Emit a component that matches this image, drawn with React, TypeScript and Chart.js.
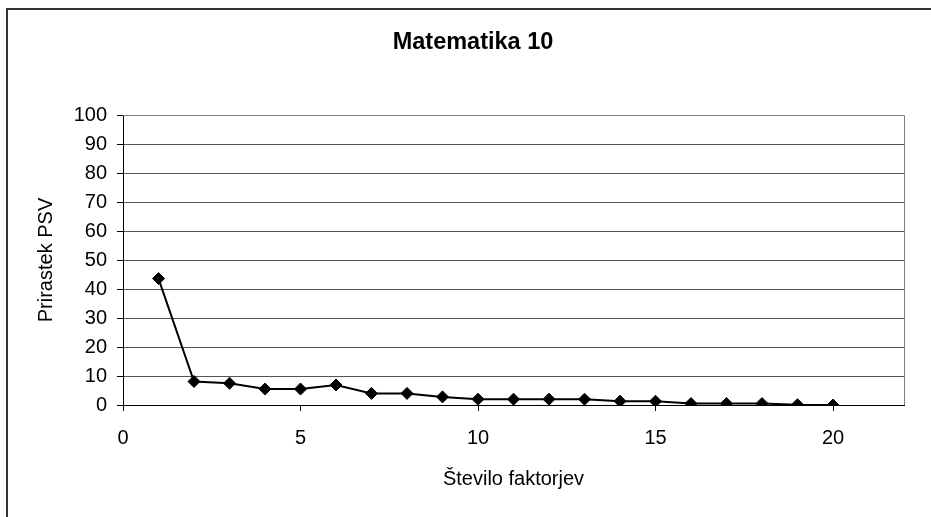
import React, { useEffect, useRef } from "react";
import { Chart, registerables } from "chart.js";

Chart.register(...registerables);

const TITLE = "Matematika 10";
const X_TITLE = "Število faktorjev";
const Y_TITLE = "Prirastek PSV";
const factors = [1, 2, 3, 4, 5, 6, 7, 8, 9, 10, 11, 12, 13, 14, 15, 16, 17, 18, 19, 20];
const increments = [43.6, 8.1, 7.5, 5.5, 5.5, 6.9, 4.0, 4.0, 2.8, 2.0, 2.0, 2.0, 2.0, 1.3, 1.3, 0.5, 0.5, 0.5, 0.1, 0.0];
const X_MIN = 0;
const X_MAX = 22;
const X_STEP = 5;
const X_LAST_TICK = 20;
const Y_MIN = 0;
const Y_MAX = 100;
const Y_STEP = 10;

const FONT = "'Liberation Sans', Arial, sans-serif";

const framePlugin = {
  id: "frame",
  beforeDraw(chart: any) {
    const ctx = chart.ctx;
    ctx.save();
    ctx.fillStyle = "#ffffff";
    ctx.fillRect(0, 0, chart.width, chart.height);
    ctx.strokeStyle = "#333333";
    ctx.lineWidth = 2;
    ctx.beginPath();
    ctx.moveTo(7, chart.height);
    ctx.lineTo(7, 9);
    ctx.lineTo(chart.width, 9);
    ctx.stroke();
    ctx.fillStyle = "#000000";
    ctx.font = "bold 23.5px " + FONT;
    ctx.textAlign = "center";
    ctx.textBaseline = "alphabetic";
    ctx.fillText(TITLE, 473, 49);
    ctx.restore();
  },
  beforeDatasetsDraw(chart: any) {
    const { ctx, chartArea } = chart;
    ctx.save();
    ctx.strokeStyle = "#808080";
    ctx.lineWidth = 1;
    ctx.beginPath();
    ctx.moveTo(chartArea.left, chartArea.top + 0.5);
    ctx.lineTo(chartArea.right + 0.5, chartArea.top + 0.5);
    ctx.lineTo(chartArea.right + 0.5, chartArea.bottom);
    ctx.stroke();
    ctx.restore();
  },
};

export default function App() {
  const canvasRef = useRef<HTMLCanvasElement | null>(null);

  useEffect(() => {
    const canvas = canvasRef.current;
    if (!canvas) return;
    const points = factors.map((x, i) => ({ x, y: increments[i] }));
    const chart = new Chart(canvas, {
      type: "scatter",
      data: {
        datasets: [
          {
            data: points,
            showLine: true,
            borderColor: "#000000",
            borderWidth: 2,
            pointStyle: "rectRot",
            pointRadius: 6,
            pointBackgroundColor: "#000000",
            pointBorderColor: "#000000",
            pointBorderWidth: 1,
          },
        ],
      },
      options: {
        responsive: false,
        animation: false,
        layout: { padding: { left: 0, right: 27, top: 115, bottom: 0 } },
        plugins: {
          legend: { display: false },
          tooltip: { enabled: false },
          title: { display: false },
        },
        scales: {
          x: {
            type: "linear",
            min: X_MIN,
            max: X_MAX,
            afterFit(scale: any) {
              scale.height = 112;
            },
            afterBuildTicks(scale: any) {
              const t = [];
              for (let v = X_MIN; v <= X_LAST_TICK; v += X_STEP) t.push({ value: v });
              scale.ticks = t;
            },
            ticks: {
              color: "#000000",
              font: { family: FONT, size: 20 },
              padding: 15,
              maxRotation: 0,
            },
            grid: {
              drawOnChartArea: false,
              drawTicks: true,
              tickLength: 6,
              tickColor: "#000000",
            },
            border: { color: "#000000", width: 1 },
            title: {
              display: true,
              text: X_TITLE,
              color: "#000000",
              font: { family: FONT, size: 20 },
              padding: { top: 4, bottom: 26 },
            },
          },
          y: {
            type: "linear",
            min: Y_MIN,
            max: Y_MAX,
            afterFit(scale: any) {
              scale.width = 123;
            },
            ticks: {
              stepSize: Y_STEP,
              color: "#000000",
              font: { family: FONT, size: 20 },
              padding: 10,
            },
            grid: {
              color: (c: any) => (c.tick && c.tick.value === Y_MAX ? "#808080" : "#555555"),
              lineWidth: 1,
              drawTicks: true,
              tickLength: 6,
              tickColor: "#000000",
            },
            border: { color: "#000000", width: 1 },
            title: {
              display: true,
              text: Y_TITLE,
              color: "#000000",
              font: { family: FONT, size: 20 },
              padding: { top: 34, bottom: 4 },
            },
          },
        },
      },
      plugins: [framePlugin],
    });
    return () => chart.destroy();
  }, []);

  return (
    <div style={{ position: "fixed", left: 0, top: 0, width: 931, height: 517, background: "#fff" }}>
      <canvas ref={canvasRef} width={931} height={517} style={{ display: "block" }} />
    </div>
  );
}
